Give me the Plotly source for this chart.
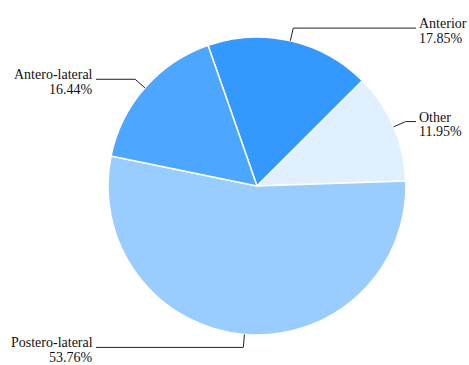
import math
import plotly.graph_objects as go

# Share of cases by location (percent)
labels = ["Anterior", "Other", "Postero-lateral", "Antero-lateral"]
values = [17.85, 11.95, 53.76, 16.44]
colors = ["#3399ff", "#e0f0ff", "#99ccff", "#4da6ff"]

# Canvas and pie geometry (pixels)
W, H = 469, 365
CX, CY, R = 257, 186, 149
START = -19.2          # angle of first slice edge, degrees clockwise from 12 o'clock
ELBOW_R = R + 13       # radius of the leader-line elbow
RIGHT_X, LEFT_X = 416, 96
FONT = dict(family="Liberation Serif", size=14, color="#111111")
LINE_GAP = 14.5


def px_to_paper(x, y):
    return x / W, 1 - y / H


fig = go.Figure(
    go.Pie(
        labels=labels,
        values=values,
        sort=False,
        direction="clockwise",
        rotation=START,
        marker=dict(colors=colors, line=dict(color="white", width=1.5)),
        textinfo="none",
        hoverinfo="label+percent",
        domain=dict(x=[(CX - R) / W, (CX + R) / W], y=[(H - CY - R) / H, (H - CY + R) / H]),
        showlegend=False,
    )
)

shapes, annotations = [], []
total = sum(values)
cum = 0.0
for lab, val in zip(labels, values):
    mid = math.radians(START + 360 * (cum + val / 2) / total)
    cum += val
    sx, sy = CX + R * math.sin(mid), CY - R * math.cos(mid)
    ex, ey = CX + ELBOW_R * math.sin(mid), CY - ELBOW_R * math.cos(mid)
    right = math.sin(mid) >= 0
    hx = RIGHT_X if right else LEFT_X
    pts = [px_to_paper(sx, sy), px_to_paper(ex, ey), px_to_paper(hx, ey)]
    path = "M {} {} L {} {} L {} {}".format(*[c for p in pts for c in p])
    shapes.append(dict(type="path", path=path, xref="paper", yref="paper",
                       line=dict(color="#222222", width=1)))
    tx = hx + 2 if right else hx - 2
    for i, txt in enumerate([lab, f"{val:.2f}%"]):
        base = ey + i * LINE_GAP
        ax, ay = px_to_paper(tx, base - 4.5)
        annotations.append(dict(
            text=txt, x=ax, y=ay, xref="paper", yref="paper",
            xanchor="left" if right else "right", yanchor="middle",
            showarrow=False, font=FONT, borderpad=0,
        ))

fig.update_layout(
    width=W, height=H,
    margin=dict(l=0, r=0, t=0, b=0),
    paper_bgcolor="white",
    plot_bgcolor="white",
    font=FONT,
    shapes=shapes,
    annotations=annotations,
)

fig.write_html("out.html")
